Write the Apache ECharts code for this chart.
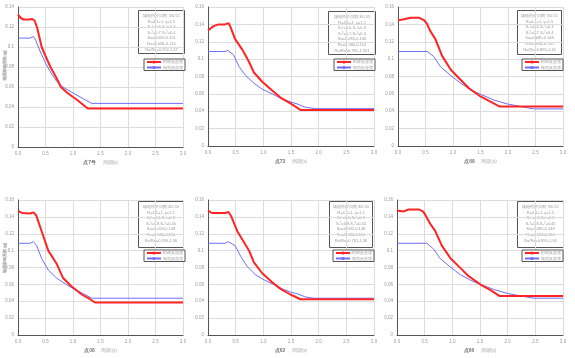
<!DOCTYPE html>
<html><head><meta charset="utf-8">
<script src="https://cdn.jsdelivr.net/npm/echarts@6/dist/echarts.min.js"></script>
<style>html,body{margin:0;padding:0;background:#fff}#c{width:575px;height:358px}</style>
</head><body><div id="c"></div>
<script>
// x tick labels (period, s) and y maxima
const xTicks = [0, 0.5, 1.0, 1.5, 2.0, 2.5, 3.0];
const yMax = [0.14, 0.16, 0.16, 0.16, 0.16, 0.16];
const pointNames = ['点7号', '点73', '点68', '点08', '点62', '点66'];
const seriesNames = ['时程反应谱', '规范反应谱'];

// [period, coefficient] pairs
const red1 = [[0,0.1323],[0.05,0.129],[0.1,0.1275],[0.2,0.1275],[0.26,0.128],[0.3,0.1265],[0.35,0.119],[0.43,0.100],[0.5,0.091],[0.59,0.080],[0.7,0.069],[0.78,0.060],[0.9,0.054],[1.0,0.050],[1.1,0.046],[1.2,0.0415],[1.27,0.0385],[3.0,0.0385]];
const blue1 = [[0,0.1089],[0.22,0.1089],[0.28,0.1105],[0.32,0.107],[0.4,0.096],[0.5,0.084],[0.6,0.074],[0.7,0.066],[0.8,0.0605],[1.0,0.054],[1.2,0.0478],[1.34,0.0436],[3.0,0.0436]];

const red2 = [[0,0.133],[0.1,0.138],[0.19,0.140],[0.31,0.140],[0.37,0.1415],[0.40,0.138],[0.49,0.123],[0.62,0.111],[0.74,0.097],[0.83,0.0846],[0.98,0.074],[1.16,0.064],[1.31,0.0558],[1.49,0.049],[1.67,0.0415],[3.0,0.0415]];
const blue2 = [[0,0.1088],[0.31,0.1088],[0.36,0.110],[0.46,0.105],[0.56,0.0915],[0.68,0.081],[0.83,0.0723],[0.98,0.0654],[1.16,0.060],[1.31,0.055],[1.49,0.0508],[1.61,0.0485],[1.76,0.0446],[1.94,0.043],[3.0,0.043]];

const red3 = [[0,0.1446],[0.11,0.146],[0.23,0.1477],[0.38,0.1477],[0.47,0.145],[0.52,0.1415],[0.59,0.132],[0.68,0.123],[0.8,0.104],[0.96,0.0877],[1.11,0.078],[1.29,0.0665],[1.5,0.057],[1.68,0.051],[1.85,0.0454],[3.0,0.0454]];
const blue3 = [[0,0.1088],[0.53,0.1088],[0.56,0.110],[0.65,0.103],[0.77,0.0915],[0.96,0.081],[1.14,0.0723],[1.32,0.0646],[1.5,0.0596],[1.74,0.053],[1.98,0.0485],[2.23,0.0454],[2.47,0.0427],[3.0,0.0427]];

const red4 = [[0,0.1473],[0.07,0.1446],[0.22,0.144],[0.28,0.1453],[0.33,0.142],[0.43,0.123],[0.55,0.100],[0.7,0.0848],[0.82,0.0675],[0.97,0.0578],[1.16,0.048],[1.31,0.0424],[1.4,0.0385],[3.0,0.0385]];
const blue4 = [[0,0.1087],[0.22,0.1087],[0.28,0.1106],[0.34,0.106],[0.43,0.0906],[0.55,0.077],[0.7,0.0675],[0.88,0.0598],[1.03,0.054],[1.19,0.049],[1.34,0.0436],[3.0,0.0436]];

const red5 = [[0,0.1473],[0.07,0.1446],[0.31,0.1446],[0.37,0.1457],[0.42,0.1407],[0.53,0.123],[0.65,0.110],[0.74,0.1002],[0.83,0.086],[0.98,0.0732],[1.16,0.0625],[1.31,0.0547],[1.49,0.048],[1.67,0.0424],[3.0,0.0424]];
const blue5 = [[0,0.1087],[0.31,0.1087],[0.36,0.1106],[0.49,0.106],[0.59,0.0933],[0.71,0.081],[0.86,0.0713],[1.01,0.0655],[1.19,0.0598],[1.34,0.0547],[1.49,0.0509],[1.61,0.049],[1.76,0.0451],[1.91,0.0436],[3.0,0.0436]];

const red6 = [[0,0.1476],[0.12,0.1465],[0.21,0.1488],[0.39,0.1488],[0.47,0.1465],[0.51,0.1426],[0.6,0.1318],[0.69,0.1234],[0.81,0.106],[0.97,0.0906],[1.12,0.081],[1.3,0.0694],[1.51,0.0598],[1.69,0.0532],[1.85,0.0463],[3.0,0.0463]];
const blue6 = [[0,0.1087],[0.54,0.1087],[0.57,0.1103],[0.66,0.102],[0.78,0.0906],[0.97,0.0802],[1.15,0.0713],[1.33,0.0648],[1.51,0.0598],[1.75,0.054],[1.99,0.0493],[2.23,0.0463],[2.47,0.0436],[3.0,0.0436]];

const infoTexts = [
 ['场地特征周期 3/0.55','R=4.1=1, γ=1.5','S₁¹=0.6,S₂¹=0.3','S₁³=0.7,S₂³=0.4','Sa=0.059-0.151','Rs=0.084-0.110','Ra/Rs=0.702-1.37'],
 ['场地特征周期 3/0.55','R=4.1=1, γ=1.5','S₁¹=0.6,S₂¹=0.3','S₁³=0.7,S₂³=0.4','Sa=0.082-0.140','Rs=0.084-0.110','Ra/Rs=0.781-1.351'],
 ['场地特征周期 3/0.55','R=4.1=1, γ=1.5','S₁¹=0.6,S₂¹=0.3','S₁³=0.7,S₂³=0.4','Sa=0.085-0.148','Rs=0.084-0.110','Ra/Rs=0.895-1.34'],
 ['场地特征周期 3/0.55','R=4.1=1, γ=1.5','S₁¹=0.6,S₂¹=0.3','S₁³=0.8,S₂³=0.45','Sa=0.059-0.148','Rs=0.084-0.110','Ra/Rs=0.359-1.36'],
 ['场地特征周期 3/0.55','R=4.1=1, γ=1.5','S₁¹=0.6,S₂¹=0.3','S₁³=0.8,S₂³=0.45','Sa=0.082-0.148','Rs=0.084-0.110','Ra/Rs=0.781-1.36'],
 ['场地特征周期 3/0.55','R=4.1=1, γ=1.5','S₁¹=0.6,S₂¹=0.3','S₁³=0.8,S₂³=0.45','Sa=0.085-0.148','Rs=0.084-0.110','Ra/Rs=0.895-1.34']
];

const reds = [red1, red2, red3, red4, red5, red6];
const blues = [blue1, blue2, blue3, blue4, blue5, blue6];

const grids = [
 {left:18, top:7, width:165, height:140},
 {left:208, top:7, width:166, height:139},
 {left:398, top:7, width:165, height:139},
 {left:18, top:200, width:165, height:138},
 {left:208, top:200, width:166, height:138},
 {left:397, top:200, width:166, height:138}
];
const infoBoxes = [
 {x:138, y:10, w:46, h:43},{x:328, y:11, w:47, h:43},{x:517, y:10, w:44, h:44},
 {x:138, y:201, w:45, h:46},{x:329, y:201, w:43, h:46},{x:517, y:201, w:46, h:46}
];
const legendPos = [
 {x:144, y:59},{x:334, y:59},{x:522, y:59},{x:144, y:250},{x:333, y:250},{x:522, y:250}
];

const RED = '#ff2424', BLUE = '#6f6ff7';
const option = {
  animation:false, backgroundColor:'#fff',
  grid:[], xAxis:[], yAxis:[], series:[], legend:[], graphic:[]
};
for (let i=0;i<6;i++){
  option.grid.push(Object.assign({containLabel:false}, grids[i]));
  option.xAxis.push({
    type:'value', gridIndex:i, min:xTicks[0], max:xTicks[xTicks.length-1], interval:0.5,
    axisLine:{show:true, onZero:false, lineStyle:{color:'#555', width:1}},
    axisTick:{show:false},
    axisLabel:{fontSize:4.5, color:'#999', margin:4, formatter:v=>v.toFixed(1)},
    splitLine:{show:true, lineStyle:{color:'#dcdcdc', width:1}},
    name:'{a|'+pointNames[i]+'}  {b|周期(s)}', nameLocation:'middle', nameGap:10,
    nameTextStyle:{rich:{a:{fontSize:5, color:'#777', fontWeight:'bold'}, b:{fontSize:4.5, color:'#aaa'}}}
  });
  option.yAxis.push({
    type:'value', gridIndex:i, min:0, max:yMax[i], interval:0.02,
    axisLine:{show:true, lineStyle:{color:'#555', width:1}},
    axisTick:{show:false},
    axisLabel:{fontSize:4.5, color:'#999', margin:4},
    splitLine:{show:true, lineStyle:{color:'#dcdcdc', width:1}}
  });
  option.series.push({
    name:seriesNames[0], type:'line', xAxisIndex:i, yAxisIndex:i, data:reds[i],
    symbol:'none', lineStyle:{color:RED, width:2}, itemStyle:{color:RED}, z:3
  });
  option.series.push({
    name:seriesNames[1], type:'line', xAxisIndex:i, yAxisIndex:i, data:blues[i],
    symbol:'none', lineStyle:{color:BLUE, width:1}, itemStyle:{color:BLUE}, z:2
  });
  option.legend.push({
    data:seriesNames, orient:'vertical', left:legendPos[i].x, top:legendPos[i].y,
    itemWidth:14, itemHeight:4, itemGap:1.5, padding:[1,2,1,2],
    borderColor:'#555', borderWidth:1, backgroundColor:'#fff',
    textStyle:{fontSize:4, color:'#999', padding:[0,0,0,-3]}, selectedMode:false
  });
  const b = infoBoxes[i];
  option.graphic.push({
    type:'group', left:b.x, top:b.y, z:100, children:[
      {type:'rect', shape:{x:0,y:0,width:b.w,height:b.h}, style:{fill:'#fff', stroke:'#555', lineWidth:1}},
      {type:'text', x:b.w/2, y:2.5, style:{text:infoTexts[i].join('\n'), fontSize:4, lineHeight:5.6, fill:'#999', align:'center', verticalAlign:'top'}}
    ]
  });
  const g = grids[i];
  option.graphic.push({
    type:'text', x:5, y:g.top + g.height*0.42, rotation:Math.PI/2, z:100,
    style:{text:'地震影响系数 (g)', fontSize:4, fill:'#aaa', align:'center', verticalAlign:'middle'}
  });
}
const chart = echarts.init(document.getElementById('c'), null, {renderer:'canvas'});
chart.setOption(option);
</script></body></html>
